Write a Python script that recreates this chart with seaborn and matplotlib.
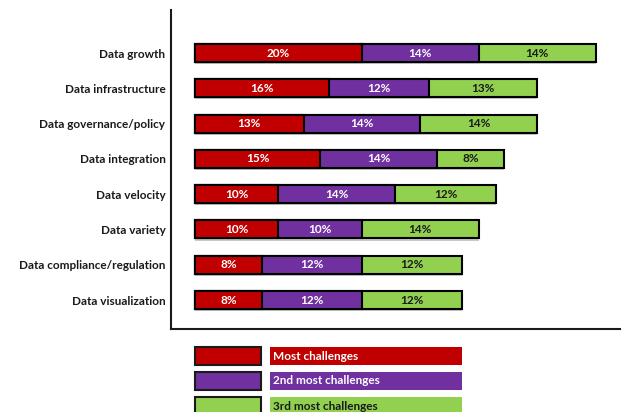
import matplotlib
matplotlib.use("Agg")
import matplotlib.pyplot as plt
from matplotlib.patches import Rectangle
import seaborn as sns
import numpy as np
import pandas as pd

categories = ["Data growth", "Data infrastructure", "Data governance/policy",
              "Data integration", "Data velocity", "Data variety",
              "Data compliance/regulation", "Data visualization"]
most = [20, 16, 13, 15, 10, 10, 8, 8]
second = [14, 12, 14, 14, 14, 10, 12, 12]
third = [14, 13, 14, 8, 12, 14, 12, 12]
series_names = ["Most challenges", "2nd most challenges", "3rd most challenges"]
colors = ["#C00000", "#7030A0", "#92D050"]
text_colors = ["white", "white", "#1a1a1a"]

sns.set_style("white")
plt.rcParams['font.family'] = ['Lato', 'DejaVu Sans']
plt.rcParams['font.weight'] = 'bold'

W, H = 622, 412
fig = plt.figure(figsize=(W / 100, H / 100), dpi=100)
# axes: left spine x=171, right edge ~620, top y=10, bottom y=329
ax = fig.add_axes([171 / W, 1 - 329 / H, (620 - 171) / W, (329 - 10) / H])

df = pd.DataFrame({"cat": categories, "a": most, "b": second, "c": third})
df["ab"] = df["a"] + df["b"]
df["abc"] = df["ab"] + df["c"]

bw = 0.51
for col, colr in [("abc", colors[2]), ("ab", colors[1]), ("a", colors[0])]:
    # subtle shadow
    sns.barplot(data=df, x=col, y="cat", orient="h", color="#c8c8c8",
                width=bw, ax=ax, saturation=1, linewidth=0)
for bar in ax.patches:
    bar.set_y(bar.get_y() + 0.06)
for col, colr in [("abc", colors[2]), ("ab", colors[1]), ("a", colors[0])]:
    sns.barplot(data=df, x=col, y="cat", orient="h", color=colr,
                width=bw, ax=ax, saturation=1, edgecolor="black", linewidth=1.5)

# segment labels
for i in range(len(categories)):
    starts = [0, most[i], most[i] + second[i]]
    vals = [most[i], second[i], third[i]]
    for s, v, tc in zip(starts, vals, text_colors):
        ax.text(s + v / 2, i, f"{v}%", ha="center", va="center",
                color=tc, fontsize=8.5, fontweight="bold")

ax.set_xlim(-2.87, (620 - 171) / 8.35 - 2.87)
ax.set_ylim(7.82, -1.22)
ax.set_xlabel("")
ax.set_ylabel("")
ax.set_xticks([])
ax.tick_params(axis="y", direction="in", length=17.3, width=1.5, color="#1a1a1a",
               pad=4, labelsize=8.5, labelcolor="#1a1a1a")
for lab in ax.get_yticklabels():
    lab.set_fontweight("bold")
for side in ["top", "right"]:
    ax.spines[side].set_visible(False)
for side in ["left", "bottom"]:
    ax.spines[side].set_color("#1a1a1a")
    ax.spines[side].set_linewidth(1.5)

# legend drawn in pixel coordinates
lax = fig.add_axes([0, 0, 1, 1])
lax.set_xlim(0, W)
lax.set_ylim(H, 0)
lax.axis("off")
tops = [347, 372, 397]
for t, name, colr, tc in zip(tops, series_names, colors, text_colors):
    lax.add_patch(Rectangle((196, t + 1), 66, 18, facecolor="#c8c8c8", edgecolor="none"))
    lax.add_patch(Rectangle((195, t), 66, 18, facecolor=colr, edgecolor="#1a1a1a", linewidth=1.5))
    lax.add_patch(Rectangle((270, t), 192, 18, facecolor=colr, edgecolor="none"))
    lax.text(273, t + 9, name, ha="left", va="center", color=tc,
             fontsize=8.5, fontweight="bold")

fig.savefig("out.png", dpi=100)
